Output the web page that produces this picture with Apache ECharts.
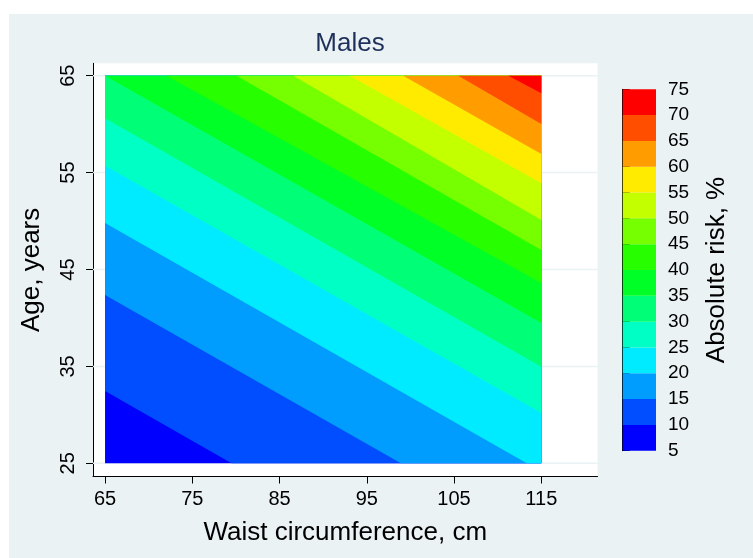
<!DOCTYPE html>
<html>
<head>
<meta charset="utf-8">
<script src="https://cdn.jsdelivr.net/npm/echarts@6/dist/echarts.min.js"></script>
<style>
  html, body { margin: 0; padding: 0; background: #fff; }
  #chart { width: 753px; height: 558px; }
</style>
</head>
<body>
<div id="chart"></div>
<script>
// risk levels (%) shown on the colour bar
const riskTicks = [5, 10, 15, 20, 25, 30, 35, 40, 45, 50, 55, 60, 65, 70, 75]

// contour boundaries: where each level line meets the edge of the data region, [waist, age]
const levels = [10, 15, 20, 25, 30, 35, 40, 45, 50, 55, 60, 65, 70]
const boundaryStart = [
  [65, 32.46], [65, 42.37], [65, 49.8], [65, 55.71], [65, 60.6], [65, 65.0],
  [72.04, 65], [80.07, 65], [86.56, 65], [93.06, 65], [99.17, 65], [105.48, 65], [111.22, 65]
]
const boundaryEnd = [
  [79.5, 25], [98.91, 25], [113.33, 25], [115, 30.19], [115, 34.97], [115, 39.48],
  [115, 43.61], [115, 47.02], [115, 50.11], [115, 53.9], [115, 56.92], [115, 60.02], [115, 63.18]
]

const waistRange = [65, 115]
const ageRange = [25, 65]
const waistTicks = [65, 75, 85, 95, 105, 115]
const ageTicks = [25, 35, 45, 55, 65]

const bandColors = [
  '#0000FF', '#004EFF', '#009DFF', '#00EBFF', '#00FFC4', '#00FF76', '#00FF27',
  '#27FF00', '#76FF00', '#C4FF00', '#FFEB00', '#FF9D00', '#FF4E00', '#FF0000'
]

const FONT = '"Liberation Sans", Arial, Helvetica, sans-serif'

// keep the part of poly on the high-risk side of the line p -> q
const clipAbove = (poly, p, q) => {
  const side = v => (q[0] - p[0]) * (v[1] - p[1]) - (q[1] - p[1]) * (v[0] - p[0])
  const out = []
  for (let k = 0; k < poly.length; k++) {
    const a = poly[k]
    const b = poly[(k + 1) % poly.length]
    const sa = side(a)
    const sb = side(b)
    if (sa >= 0) out.push(a)
    if ((sa >= 0) !== (sb >= 0)) {
      const t = sa / (sa - sb)
      out.push([a[0] + t * (b[0] - a[0]), a[1] + t * (b[1] - a[1])])
    }
  }
  return out
}

const dataRect = [
  [waistRange[0], ageRange[0]], [waistRange[1], ageRange[0]],
  [waistRange[1], ageRange[1]], [waistRange[0], ageRange[1]]
]

const renderBand = (params, api) => {
  const i = api.value(0)
  const poly = i === 0 ? dataRect : clipAbove(dataRect, boundaryStart[i - 1], boundaryEnd[i - 1])
  if (poly.length < 3) return
  return {
    type: 'polygon',
    shape: { points: poly.map(pt => api.coord(pt)) },
    style: { fill: bandColors[i], stroke: null }
  }
}

const renderGridLine = (params, api) => {
  const cs = params.coordSys
  const y = api.coord([waistRange[0], api.value(0)])[1]
  return {
    type: 'line',
    shape: { x1: cs.x, y1: y, x2: cs.x + cs.width, y2: y },
    style: { stroke: '#EAF2F3', lineWidth: 1.5 }
  }
}

const renderColorBar = (params, api) => {
  const lo = api.value(0)
  const hi = api.value(1)
  const p1 = api.coord([0, hi])
  const p2 = api.coord([1, lo])
  return {
    type: 'rect',
    shape: { x: p1[0], y: p1[1], width: p2[0] - p1[0], height: p2[1] - p1[1] },
    style: { fill: bandColors[api.value(2)], stroke: null }
  }
}

const axisLineStyle = { color: '#000', width: 1 }

const option = {
  animation: false,
  backgroundColor: '#fff',
  textStyle: { fontFamily: FONT },
  graphic: [{
    type: 'rect', z: -10, silent: true,
    shape: { x: 9, y: 14, width: 744, height: 544 },
    style: { fill: '#EAF2F3' }
  }],
  title: {
    text: 'Males',
    left: 345,
    textAlign: 'center',
    top: 26,
    textStyle: { fontSize: 26, fontWeight: 'normal', color: '#1E2F5C', fontFamily: FONT }
  },
  grid: [
    { left: 93, top: 63.3, width: 504.5, height: 413.2, show: true, backgroundColor: '#fff', borderWidth: 0 },
    { left: 622.7, top: 89.3, width: 33.3, height: 361.4 }
  ],
  xAxis: [
    {
      gridIndex: 0, type: 'value', min: 63.62, max: 121.44,
      axisLine: { show: true, onZero: false, lineStyle: axisLineStyle },
      axisTick: { show: true, inside: false, length: 7, customValues: waistTicks, lineStyle: axisLineStyle },
      axisLabel: { customValues: waistTicks, fontSize: 20, color: '#000', margin: 13, fontFamily: FONT },
      splitLine: { show: false },
      name: 'Waist circumference, cm', nameLocation: 'middle', nameGap: 43,
      nameTextStyle: { fontSize: 26, color: '#000', fontFamily: FONT }
    },
    { gridIndex: 1, type: 'value', min: 0, max: 1, show: false }
  ],
  yAxis: [
    {
      gridIndex: 0, type: 'value', min: 23.64, max: 66.28,
      axisLine: { show: true, onZero: false, lineStyle: axisLineStyle },
      axisTick: { show: true, inside: false, length: 7, customValues: ageTicks, lineStyle: axisLineStyle },
      axisLabel: { customValues: ageTicks, rotate: 90, fontSize: 20, color: '#000', margin: 15, fontFamily: FONT },
      splitLine: { show: false },
      name: 'Age, years', nameLocation: 'middle', nameGap: 48, nameRotate: 90,
      nameTextStyle: { fontSize: 26, color: '#000', fontFamily: FONT }
    },
    {
      gridIndex: 1, type: 'value', position: 'right', min: 5, max: 75, interval: 5,
      axisLine: { show: true, lineStyle: axisLineStyle },
      axisTick: { show: true, inside: false, length: 7, lineStyle: axisLineStyle },
      axisLabel: { fontSize: 19, color: '#000', margin: 12, fontFamily: FONT },
      splitLine: { show: false },
      name: 'Absolute risk, %', nameLocation: 'middle', nameGap: 48, nameRotate: 90,
      nameTextStyle: { fontSize: 26, color: '#000', fontFamily: FONT }
    }
  ],
  series: [
    {
      type: 'custom', xAxisIndex: 0, yAxisIndex: 0, z: 1, silent: true,
      renderItem: renderGridLine,
      data: ageTicks.map(v => [v])
    },
    {
      type: 'custom', xAxisIndex: 0, yAxisIndex: 0, z: 2, silent: true,
      renderItem: renderBand,
      data: bandColors.map((_, i) => [i])
    },
    {
      type: 'custom', xAxisIndex: 1, yAxisIndex: 1, z: 2, silent: true,
      renderItem: renderColorBar,
      data: bandColors.map((_, i) => [riskTicks[i], riskTicks[i + 1], i])
    }
  ]
}

const chart = echarts.init(document.getElementById('chart'))
chart.setOption(option)
window.addEventListener('resize', () => chart.resize())
</script>
</body>
</html>
